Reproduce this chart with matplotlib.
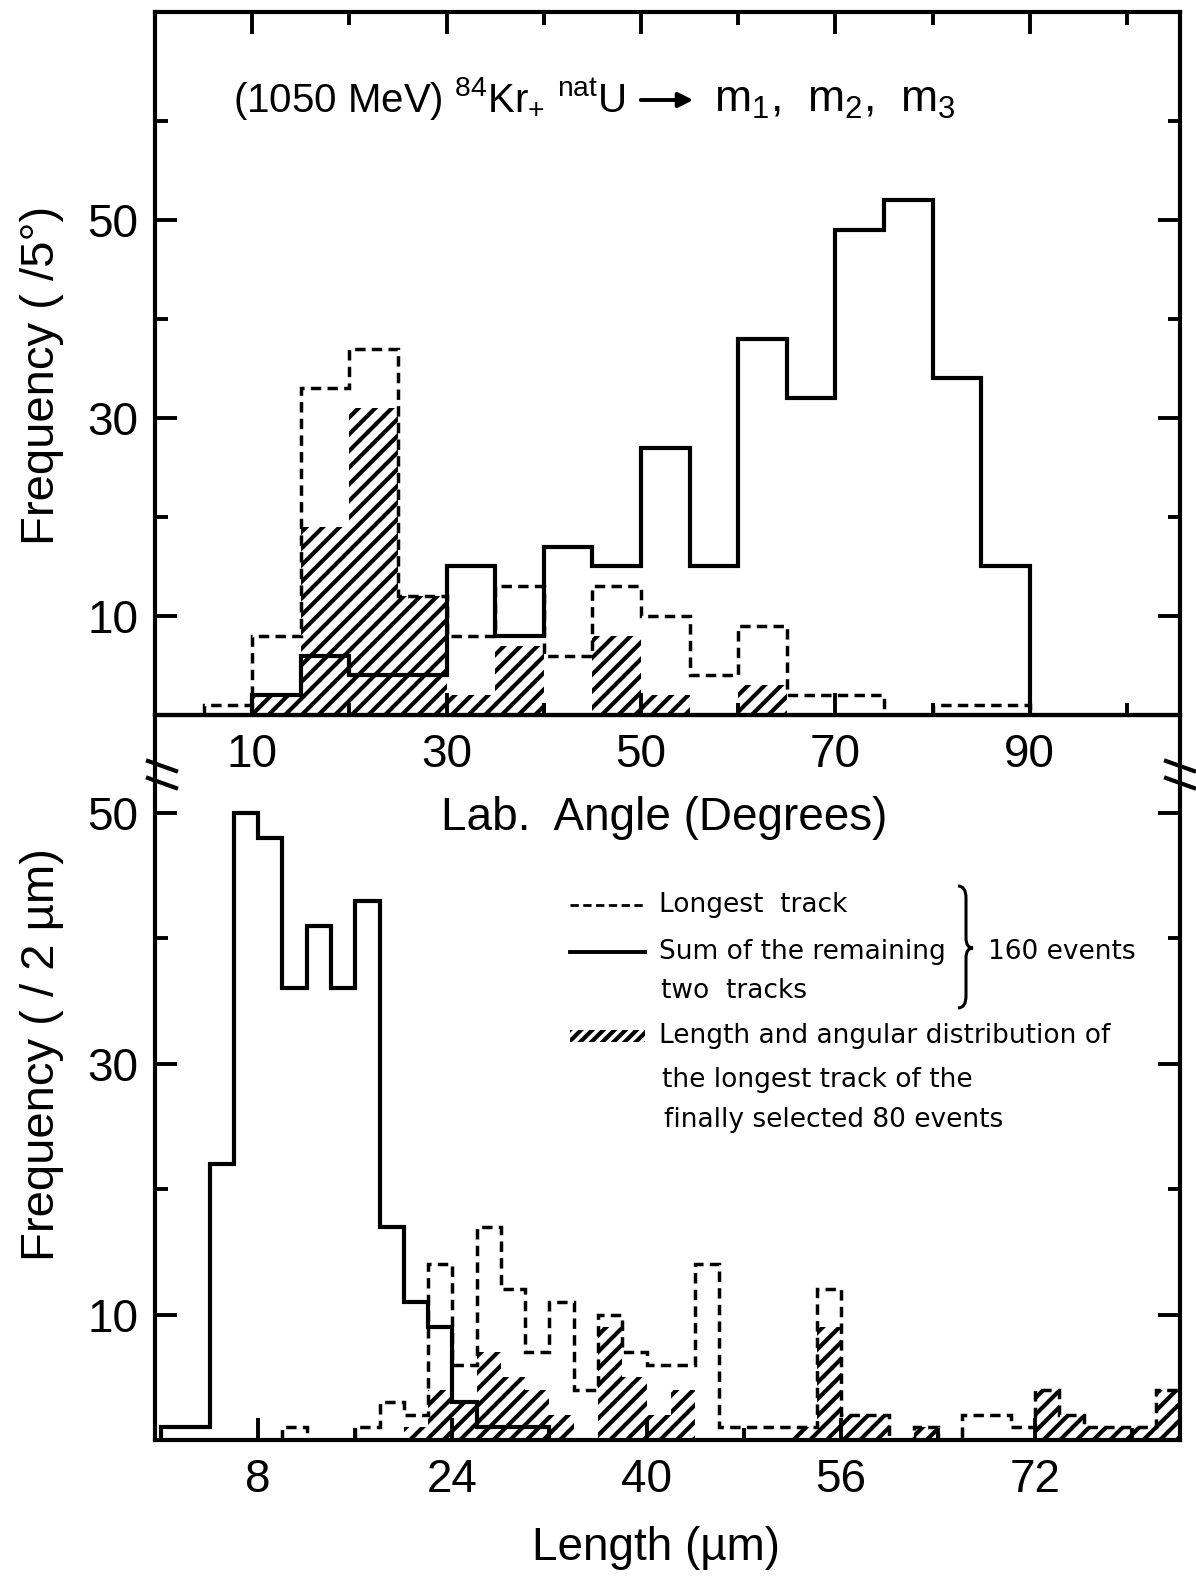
import matplotlib
matplotlib.use('Agg')
import matplotlib.pyplot as plt
from matplotlib.lines import Line2D
from matplotlib.patches import Rectangle, PathPatch, FancyArrowPatch
from matplotlib.path import Path
import numpy as np

plt.rcParams['font.family'] = ['Liberation Sans', 'DejaVu Sans']
plt.rcParams['mathtext.fontset'] = 'custom'
plt.rcParams['mathtext.rm'] = 'Liberation Sans'
plt.rcParams['mathtext.it'] = 'Liberation Sans'
plt.rcParams['hatch.linewidth'] = 3.0
plt.rcParams['hatch.color'] = 'black'

W, H = 1196, 1577

# upper panel: lab angle, 5 degree bins
angle_edges_solid = np.arange(10, 95, 5)
angle_solid = [2, 6, 4, 4, 15, 8, 17, 15, 27, 15, 38, 32, 49, 52, 34, 15]
angle_edges_dash = np.arange(5, 95, 5)
angle_dash = [1, 8, 33, 37, 12, 8, 13, 6, 13, 10, 4, 9, 2, 2, 0, 1, 1]
angle_edges_hatch = np.arange(10, 70, 5)
angle_hatch = [2, 19, 31, 12, 2, 7, 0, 8, 2, 0, 3]

# lower panel: track length, 2 um bins
len_edges_solid = np.arange(0, 34, 2)
len_solid = [1, 1, 22, 50, 48, 36, 41, 36, 43, 17, 11, 9, 3, 1, 1, 1]
len_edges_dash = np.arange(10, 86, 2)
len_dash = [1, 0, 0, 1, 3, 2, 14, 6, 17, 12, 7, 11, 4, 10, 7, 6, 6, 14, 1, 1,
            1, 1, 12, 2, 2, 0, 1, 0, 2, 2, 1, 4, 2, 1, 1, 1, 4]
len_edges_hatch = np.arange(20, 86, 2)
len_hatch = [1, 4, 3, 7, 5, 4, 2, 0, 9, 5, 2, 4, 0, 0, 0, 0, 1, 9, 2, 2,
             0, 1, 0, 0, 0, 0, 4, 2, 1, 1, 1, 4]

angle_ticks = [10, 30, 50, 70, 90]
len_ticks = [8, 24, 40, 56, 72]
freq_ticks = [10, 30, 50]


def fx(px):
    return px / W


def fy(py):
    return 1 - py / H


fig = plt.figure(figsize=(W / 100, H / 100), dpi=100)
L, R = 155, 1180
T1, B1, B2 = 12, 715, 1440
ax2 = fig.add_axes([fx(L), fy(B2), (R - L) / W, (B2 - B1) / H], facecolor='none')
ax1 = fig.add_axes([fx(L), fy(B1), (R - L) / W, (B1 - T1) / H], facecolor='none')

dash = (0, (3, 1.8))

# upper panel
ax1.stairs(angle_hatch, angle_edges_hatch, fill=True, hatch='//',
           facecolor='none', edgecolor='black', lw=0)
ax1.stairs(angle_dash, angle_edges_dash, color='black', lw=2.5, linestyle=dash)
ax1.stairs(angle_solid, angle_edges_solid, color='black', lw=3)
ax1.set_xlim(0, (R - L) / 9.72)
ax1.set_ylim(0, 71)
ax1.set_xticks(angle_ticks)
ax1.set_xticks([20, 40, 60, 80, 100], minor=True)
ax1.set_yticks(freq_ticks)
ax1.set_yticks([20, 40, 60], minor=True)

# lower panel
ax2.stairs(len_hatch, len_edges_hatch, fill=True, hatch='//',
           facecolor='none', edgecolor='black', lw=0)
ax2.stairs(len_dash, len_edges_dash, color='black', lw=2.5, linestyle=dash)
ax2.stairs(len_solid, len_edges_solid, color='black', lw=3)
ax2.set_xlim(-6 / 12.14, (R - L - 6) / 12.14)
ax2.set_ylim(0, 57.8)
ax2.set_xticks(len_ticks)
ax2.set_xticks([16, 32, 48, 64, 80], minor=True)
ax2.set_yticks(freq_ticks)
ax2.set_yticks([20, 40], minor=True)

for ax in (ax1, ax2):
    for s in ax.spines.values():
        s.set_linewidth(3)
    ax.tick_params(which='both', direction='in', width=2.8, labelsize=33,
                   left=True, right=True)
    ax.tick_params(which='major', length=16)
    ax.tick_params(which='minor', length=9)
    ax.tick_params(axis='y', pad=12)
ax1.tick_params(axis='x', which='both', top=True, bottom=True, pad=13)
ax2.tick_params(axis='x', which='both', top=False, bottom=True, pad=13)

# axis titles
fig.text(fx(42), fy(375), 'Frequency ( /5°)', rotation=90, fontsize=34,
         ha='center', va='center')
fig.text(fx(42), fy(1055), 'Frequency ( / 2 µm)', rotation=90, fontsize=34,
         ha='center', va='center')
fig.text(fx(664), fy(818), 'Lab.  Angle (Degrees)', fontsize=33,
         ha='center', va='center')
fig.text(fx(656), fy(1548), 'Length (µm)', fontsize=33,
         ha='center', va='center')

# reaction label
fig.text(fx(233), fy(112), r'(1050 MeV) $^{84}$Kr$_{+}$ $^{nat}$U',
         fontsize=29, ha='left', va='baseline')
fig.add_artist(FancyArrowPatch((fx(638), fy(100)), (fx(696), fy(100)),
                               arrowstyle='-|>', mutation_scale=22, lw=2.8,
                               color='black', transform=fig.transFigure))
fig.text(fx(714), fy(112), r'm$_{1}$,  m$_{2}$,  m$_{3}$',
         fontsize=32, ha='left', va='baseline')

# legend
lg = dict(fontsize=19, family=['DejaVu Sans'], ha='left', va='center')
fig.add_artist(Line2D([fx(570), fx(645)], [fy(905), fy(905)], color='black',
                      lw=2, linestyle=(0, (3, 1.6))))
fig.text(fx(659), fy(905), 'Longest  track', **lg)
fig.add_artist(Line2D([fx(570), fx(645)], [fy(952), fy(952)], color='black', lw=2.8))
fig.text(fx(659), fy(952), 'Sum of the remaining', **lg)
fig.text(fx(661), fy(991), 'two  tracks', **lg)
fig.add_artist(Rectangle((fx(570), fy(1042)), fx(75), 12 / H, hatch='///',
                         facecolor='none', edgecolor='black', lw=0,
                         transform=fig.transFigure))
fig.text(fx(659), fy(1036), 'Length and angular distribution of', **lg)
fig.text(fx(662), fy(1080), 'the longest track of the', **lg)
fig.text(fx(664), fy(1120), 'finally selected 80 events', **lg)
fig.text(fx(988), fy(952), '160 events', **lg)

# curly brace
bx, top, bot, tip = 964, 886, 1008, 948
verts = [(bx - 6, top), (bx + 2, top), (bx + 2, top + 12),
         (bx + 2, tip - 10),
         (bx + 2, tip), (bx + 9, tip),
         (bx + 2, tip), (bx + 2, tip + 10),
         (bx + 2, bot - 12),
         (bx + 2, bot), (bx - 6, bot)]
verts = [(fx(a), fy(b)) for a, b in verts]
codes = [Path.MOVETO, Path.CURVE3, Path.CURVE3, Path.LINETO,
         Path.CURVE3, Path.CURVE3, Path.CURVE3, Path.CURVE3,
         Path.LINETO, Path.CURVE3, Path.CURVE3]
fig.add_artist(PathPatch(Path(verts, codes), facecolor='none', edgecolor='black',
                         lw=2.2, transform=fig.transFigure))

# axis break marks
for x0 in (148, 1166):
    for y0 in (761, 778):
        fig.add_artist(Line2D([fx(x0), fx(x0 + 28)], [fy(y0), fy(y0 + 10)],
                              color='black', lw=3))

fig.savefig('out.png', dpi=100)
